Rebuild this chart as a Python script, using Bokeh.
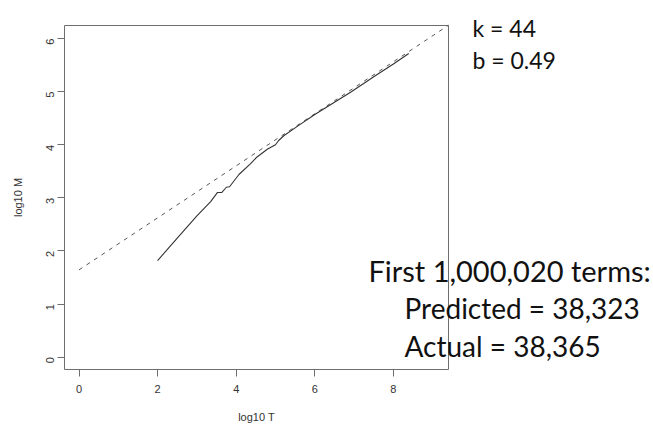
import math
from bokeh.plotting import figure
from bokeh.models import Range1d, Label, FixedTicker, LinearAxis
from bokeh.embed import file_html
from bokeh.resources import INLINE

# observed curve: log10 T vs log10 M
log_t = [2.0, 2.5, 3.0, 3.35, 3.52, 3.63, 3.75, 3.83, 4.07, 4.36, 4.53, 4.8, 5.0,
         5.08, 5.21, 5.6, 6.0, 6.5, 6.91, 7.5, 8.0, 8.39]
log_m = [1.82, 2.24, 2.66, 2.93, 3.10, 3.10, 3.20, 3.21, 3.44, 3.64, 3.77, 3.92, 4.00,
         4.08, 4.17, 4.37, 4.57, 4.80, 4.99, 5.28, 5.52, 5.72]

# fitted power law  M = k * T^b
k_fit = 44
b_fit = 0.49

x_ticks = [0, 2, 4, 6, 8]
y_ticks = [0, 1, 2, 3, 4, 5, 6]
x_title = "log10 T"
y_title = "log10 M"

top_text = ["k = 44", "b = 0.49"]
bottom_text = ["First 1,000,020 terms:", "Predicted = 38,323", "Actual = 38,365"]

# plot box (R style, 4% expanded) in data units
box_x0, box_x1 = -0.369, 9.402
box_y0, box_y1 = -0.232, 6.246

W, H = 653, 429
BOX_L, BOX_T, BOX_W, BOX_H = 64, 25, 384, 344   # box in page pixels
sx = BOX_W / (box_x1 - box_x0)
sy = BOX_H / (box_y1 - box_y0)

# the frame covers the whole page, so that texts outside the box are not clipped
x_start = box_x0 - BOX_L / sx
x_stop = box_x0 + (W - BOX_L) / sx
y_stop = box_y1 + BOX_T / sy
y_start = box_y1 - (H - BOX_T) / sy

p = figure(width=W, height=H, output_backend="svg", toolbar_location=None,
           x_range=Range1d(x_start, x_stop), y_range=Range1d(y_start, y_stop),
           x_axis_location=None, y_axis_location=None,
           min_border=0, min_border_left=0, min_border_right=0,
           min_border_top=0, min_border_bottom=0)
p.background_fill_color = "white"
p.border_fill_color = "white"
p.grid.visible = False
p.outline_line_color = None

xax = LinearAxis(fixed_location=box_y0, ticker=FixedTicker(ticks=x_ticks))
yax = LinearAxis(fixed_location=box_x0, ticker=FixedTicker(ticks=y_ticks))
for ax in (xax, yax):
    ax.axis_line_color = None
    ax.major_tick_out = 7
    ax.major_tick_in = 0
    ax.major_tick_line_color = "#6e6e6e"
    ax.minor_tick_line_color = None
    ax.major_label_text_font = "Liberation Sans"
    ax.major_label_text_font_size = "11px"
    ax.major_label_text_color = "#333333"
xax.major_label_standoff = 8
yax.major_label_orientation = math.pi / 2
yax.major_label_standoff = 7
p.add_layout(xax, "below")
p.add_layout(yax, "left")

def dx(px):
    return box_x0 + (px - BOX_L) / sx

def dy(py):
    return box_y1 - (py - BOX_T) / sy

# axis titles centred on the box
p.add_layout(Label(x=(box_x0 + box_x1) / 2, y=dy(416.5), text=x_title,
                   text_font="Liberation Sans", text_font_size="11px",
                   text_color="#333333", text_align="center", text_baseline="middle"))
p.add_layout(Label(x=dx(17.5), y=(box_y0 + box_y1) / 2, text=y_title, angle=math.pi / 2,
                   text_font="Liberation Sans", text_font_size="11px",
                   text_color="#333333", text_align="center", text_baseline="middle"))

# box
p.quad(left=[box_x0], right=[box_x1], bottom=[box_y0], top=[box_y1],
       fill_color=None, line_color="#6e6e6e", line_width=1)

# fitted line from log10 T = 0 to the right edge of the box
fit_x = [0, box_x1]
fit_y = [math.log10(k_fit) + b_fit * x for x in fit_x]
p.line(fit_x, fit_y, line_color="#555555", line_width=1, line_dash="4 5")
p.line(log_t, log_m, line_color="#333333", line_width=1.1)

for i, t in enumerate(top_text):
    p.add_layout(Label(x=dx(472), y=dy(27 + 32 * i), text=t, text_font="Lato",
                       text_font_size="23px", text_color="#111111",
                       text_baseline="alphabetic"))
xs = [368, 404, 404]
sizes = ["29px", "28px", "28px"]
for i, t in enumerate(bottom_text):
    p.add_layout(Label(x=dx(xs[i]), y=dy(270 + 37.5 * i), text=t, text_font="Lato",
                       text_font_size=sizes[i], text_color="#111111",
                       text_baseline="alphabetic"))

open("out.html", "w").write(file_html(p, INLINE))
